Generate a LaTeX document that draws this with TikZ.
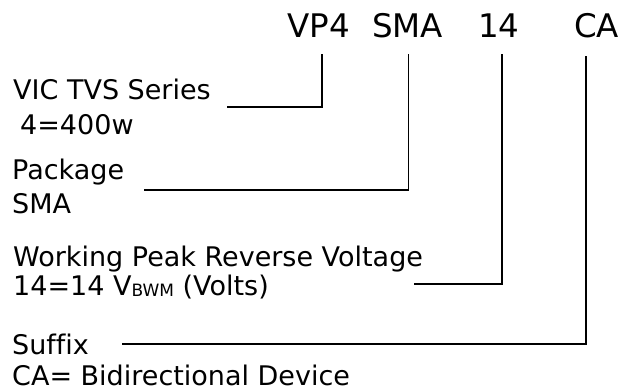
\documentclass[tikz,border=0pt]{standalone}
\usepackage{fontspec}
\setmainfont{DejaVu Sans}[Ligatures=NoCommon]
\begin{document}
\begin{tikzpicture}[x=1pt,y=-1pt,
  titletext/.style={font=\fontsize{32.5}{32.5}\selectfont, inner sep=0pt, anchor=base west},
  bodytext/.style={font=\fontsize{27}{27}\selectfont, inner sep=0pt, anchor=base west},
  conn/.style={line width=1.3pt, line cap=rect},
  connthick/.style={line width=1.8pt, line cap=rect}]
\useasboundingbox (0,0) rectangle (633,391);
% title parts
\node[titletext] (vp4) at (287,37) {VP4};
\node[titletext] (smat) at (372,37) {SMA};
\node[titletext] (v14t) at (478,37) {14};
\node[titletext] (cat) at (574,37) {CA};
% descriptions
\node[bodytext] (vic) at (13,99) {VIC TVS Series};
\node[bodytext] (w400) at (20,134) {4=400w};
\node[bodytext] (pkg) at (12,179) {Package};
\node[bodytext] (smab) at (12,213) {SMA};
\node[bodytext] (wprv) at (13,266) {Working Peak Reverse Voltage};
\node[bodytext] (v14b) at (13,295) {14=14 V\raisebox{-1pt}{\fontsize{17}{17}\selectfont BWM} (Volts)};
\node[bodytext] (suf) at (12,354) {Suffix};
\node[bodytext] (cabi) at (12,385) {CA= Bidirectional Device};
% connector coordinates
\coordinate (a1) at (322,55);
\coordinate (a2) at (228,107);
\coordinate (b1) at (408.7,55);
\coordinate (b2) at (145,190);
\coordinate (c1) at (502,55);
\coordinate (c2) at (415,284);
\coordinate (d1) at (586,57);
\coordinate (d2) at (123,344);
\draw[conn] (a1) |- (a2);
\draw[conn] (b1) |- (b2);
\draw[connthick] (c1) |- (c2);
\draw[connthick] (d1) |- (d2);
\end{tikzpicture}
\end{document}
